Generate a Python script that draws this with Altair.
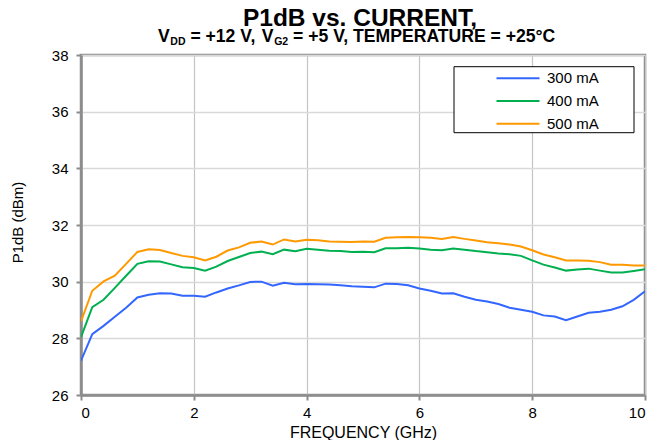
import altair as alt
import pandas as pd

FONT = "Liberation Sans, Arial, Helvetica, sans-serif"

freq_ghz = [0.0, 0.2, 0.4, 0.6, 0.8, 1.0, 1.2, 1.4, 1.6, 1.8,
            2.0, 2.2, 2.4, 2.6, 2.8, 3.0, 3.2, 3.4, 3.6, 3.8,
            4.0, 4.2, 4.4, 4.6, 4.8, 5.0, 5.2, 5.4, 5.6, 5.8,
            6.0, 6.2, 6.4, 6.6, 6.8, 7.0, 7.2, 7.4, 7.6, 7.8,
            8.0, 8.2, 8.4, 8.6, 8.8, 9.0, 9.2, 9.4, 9.6, 9.8, 10.0]

p1db_300 = [27.21, 28.15, 28.44, 28.76, 29.08, 29.44, 29.54, 29.59, 29.58, 29.50,
            29.50, 29.47, 29.62, 29.76, 29.87, 29.99, 30.00, 29.86, 29.96, 29.91,
            29.92, 29.91, 29.90, 29.87, 29.84, 29.82, 29.80, 29.93, 29.92, 29.87,
            29.76, 29.68, 29.58, 29.59, 29.47, 29.36, 29.30, 29.21, 29.08, 29.01,
            28.94, 28.81, 28.77, 28.64, 28.77, 28.90, 28.94, 29.01, 29.13, 29.36, 29.66]

p1db_400 = [28.04, 29.10, 29.36, 29.78, 30.21, 30.63, 30.72, 30.71, 30.61, 30.51,
            30.48, 30.39, 30.53, 30.73, 30.87, 31.01, 31.06, 30.97, 31.13, 31.07,
            31.16, 31.13, 31.09, 31.08, 31.05, 31.06, 31.04, 31.18, 31.18, 31.20,
            31.17, 31.13, 31.11, 31.17, 31.13, 31.08, 31.04, 30.99, 30.97, 30.91,
            30.75, 30.60, 30.50, 30.39, 30.43, 30.46, 30.39, 30.32, 30.32, 30.38, 30.44]

p1db_500 = [28.60, 29.68, 30.01, 30.21, 30.63, 31.05, 31.14, 31.12, 31.01, 30.91,
            30.86, 30.75, 30.88, 31.10, 31.21, 31.37, 31.42, 31.31, 31.49, 31.42,
            31.48, 31.46, 31.42, 31.41, 31.40, 31.42, 31.41, 31.55, 31.57, 31.58,
            31.57, 31.55, 31.51, 31.58, 31.51, 31.45, 31.39, 31.36, 31.31, 31.24,
            31.11, 30.96, 30.86, 30.75, 30.75, 30.74, 30.69, 30.60, 30.60, 30.57, 30.57]

currents = ["300 mA", "400 mA", "500 mA"]
colors = ["#3366FF", "#00B050", "#FF9900"]
x_ticks = [0, 2, 4, 6, 8, 10]
y_ticks = [26, 28, 30, 32, 34, 36, 38]

rows = []
for name, vals in zip(currents, [p1db_300, p1db_400, p1db_500]):
    for f, v in zip(freq_ghz, vals):
        rows.append({"freq": f, "p1db": v, "current": name})
df = pd.DataFrame(rows)

W, H = 564, 340

lines = alt.Chart(df).mark_line(strokeWidth=2, clip=True).encode(
    x=alt.X("freq:Q", scale=alt.Scale(domain=[0, 10], nice=False),
            axis=alt.Axis(values=x_ticks, title="FREQUENCY (GHz)", gridColor="#c4c4c4",
                          gridWidth=1.2, labelPadding=5, titleFontSize=16,
                          titleX=282, titleY=42, titleBaseline="alphabetic", titleAlign="center")),
    y=alt.Y("p1db:Q", scale=alt.Scale(domain=[26, 38], nice=False),
            axis=alt.Axis(values=y_ticks, title="P1dB (dBm)", gridColor="#d9d9d9",
                          gridWidth=1.5, labelPadding=8, titleFontSize=15,
                          titleAngle=270, titleX=-59, titleY=167,
                          titleBaseline="alphabetic", titleAlign="center")),
    color=alt.Color("current:N", scale=alt.Scale(domain=currents, range=colors),
                    legend=alt.Legend(title=None, orient="none", legendX=429.5, legendY=15.8,
                                      symbolType="M-4.3,0H4.3", symbolSize=100,
                                      symbolStrokeWidth=2, labelFontSize=15, labelFont=FONT,
                                      labelColor="black", labelOffset=21.5, rowPadding=6.7)),
)

legend_box = alt.Chart(pd.DataFrame({"a": [0]})).mark_rect(
    fill="white", stroke="black", strokeWidth=1
).encode(x=alt.value(373), x2=alt.value(553), y=alt.value(11.7), y2=alt.value(77.7))


def txt(text, x, y, size, align="left"):
    return alt.Chart(pd.DataFrame({"t": [text]})).mark_text(
        align=align, baseline="alphabetic", fontSize=size, fontWeight="bold",
        font=FONT, color="black"
    ).encode(x=alt.value(x), y=alt.value(y), text="t:N")


MAIN = 17.6
SUB = 10.5
base_y = -13.3
sub_y = -10.3
x0 = 77.0
parts = []
cx = x0
parts.append(txt("V", cx, base_y, MAIN)); cx += 0.667 * MAIN + 0.6
parts.append(txt("DD", cx, sub_y, SUB)); cx += 1.444 * SUB + 0.278 * MAIN
parts.append(txt("= +12 V,", cx, base_y, MAIN)); cx += 3.781 * MAIN + 0.278 * MAIN
parts.append(txt("V", cx, base_y, MAIN)); cx += 0.667 * MAIN + 0.6
parts.append(txt("G2", cx, sub_y, SUB)); cx += 1.334 * SUB + 0.278 * MAIN
parts.append(txt("= +5 V, TEMPERATURE = +25°C", cx, base_y, MAIN))

title = txt("P1dB vs. CURRENT,", 279, -29, 24.5, align="center")

chart = alt.layer(legend_box, lines, title, *parts).properties(
    width=W, height=H,
    autosize=alt.AutoSizeParams(type="none"),
    padding={"left": 73, "top": 47, "right": 14, "bottom": 45},
).configure_view(
    stroke="#8c8c8c", strokeWidth=2.5
).configure_axis(
    domainColor="#8c8c8c", domainWidth=2.5, tickColor="#8c8c8c", tickWidth=2, tickSize=5,
    labelFont=FONT, labelFontSize=15, labelColor="black",
    titleFont=FONT, titleFontWeight="normal", titleColor="black",
)

chart.save("out.html", embed_options={"renderer": "svg", "actions": False})
